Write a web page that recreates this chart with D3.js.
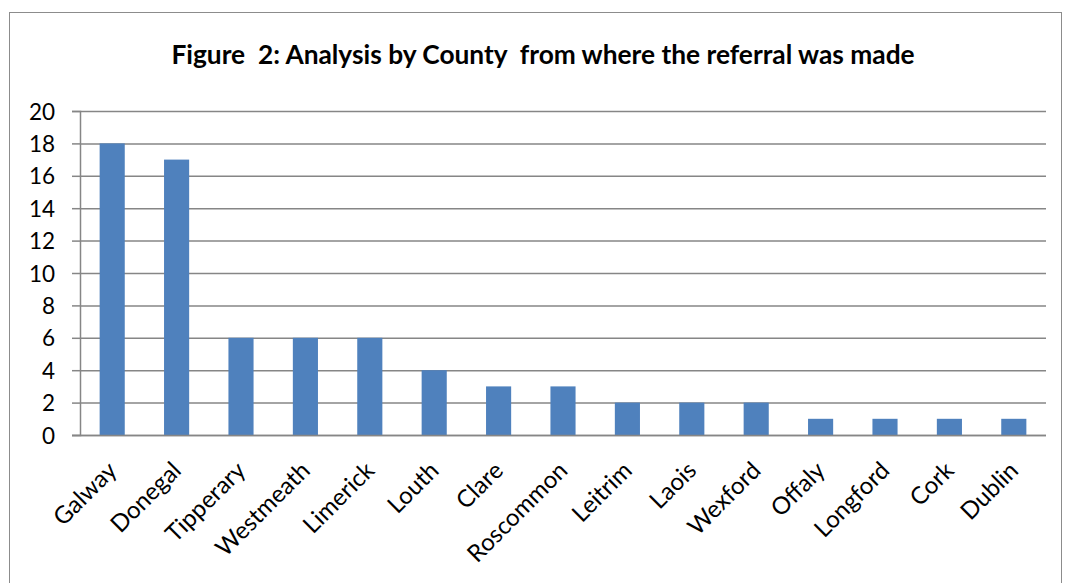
<!DOCTYPE html>
<html><head><meta charset="utf-8">
<script src="https://cdn.jsdelivr.net/npm/d3@7"></script>
<style>body{margin:0;background:#fff}svg{display:block}</style>
</head><body>
<svg id="c" width="1066" height="583"></svg>
<script>
const categories = ["Galway","Donegal","Tipperary","Westmeath","Limerick","Louth","Clare","Roscommon","Leitrim","Laois","Wexford","Offaly","Longford","Cork","Dublin"];
const values = [18,17,6,6,6,4,3,3,2,2,2,1,1,1,1];
const yTicks = [0,2,4,6,8,10,12,14,16,18,20];
const title = "Figure  2: Analysis by County  from where the referral was made";

const svg = d3.select("#c");
const font = "Lato, 'Open Sans', sans-serif";
svg.append("rect").attr("x",9.5).attr("y",12.5).attr("width",1052).attr("height",600)
  .attr("fill","none").attr("stroke","#8c8c8c").attr("stroke-width",1);

svg.append("text").attr("x",543).attr("y",64).attr("text-anchor","middle")
  .attr("font-family",font).attr("font-weight","bold").attr("font-size",26.3)
  .attr("fill","#000").style("white-space","pre").text(title);

const m = {left:80, right:1046, top:111, bottom:435};
const x = d3.scaleBand().domain(categories).range([m.left,m.right]).paddingInner(0.61).paddingOuter(0.305);
const y = d3.scaleLinear().domain([0,20]).range([m.bottom,m.top]);

const g = svg.append("g");
// gridlines
g.append("g").attr("transform",`translate(${m.left},0)`)
  .call(d3.axisLeft(y).tickValues(yTicks).tickSize(-(m.right-m.left)).tickFormat(""))
  .call(s=>{s.select(".domain").remove(); s.selectAll("line").attr("stroke","#868686").attr("stroke-width",1.5);});
// y axis
const ya = g.append("g").attr("transform",`translate(${m.left},0)`)
  .call(d3.axisLeft(y).tickValues(yTicks).tickSize(8).tickPadding(17).tickFormat(d3.format("d")));
ya.select(".domain").attr("stroke","#868686").attr("stroke-width",1.5);
ya.selectAll("line").attr("stroke","#868686").attr("stroke-width",1.5);
ya.selectAll("text").attr("font-family",font).attr("font-size",22.5).attr("fill","#000").attr("dy","0.36em");

// bars
g.selectAll("rect.bar").data(values).join("rect").attr("class","bar")
  .attr("x",(d,i)=>x(categories[i])).attr("width",x.bandwidth())
  .attr("y",d=>y(d)).attr("height",d=>y(0)-y(d)).attr("fill","#4F81BD");

// x axis
const xa = g.append("g").attr("transform",`translate(0,${m.bottom})`)
  .call(d3.axisBottom(x).tickSize(0).tickFormat(d=>d));
xa.select(".domain").attr("stroke","#868686").attr("stroke-width",1.5).attr("d",`M${m.left-8},0.5H${m.right}`);
xa.selectAll("text").attr("font-family",font).attr("font-size",24).attr("fill","#000")
  .attr("text-anchor","end").attr("dy",0).attr("y",0)
  .attr("transform","translate(6,37) rotate(-45)");
</script>
</body></html>
